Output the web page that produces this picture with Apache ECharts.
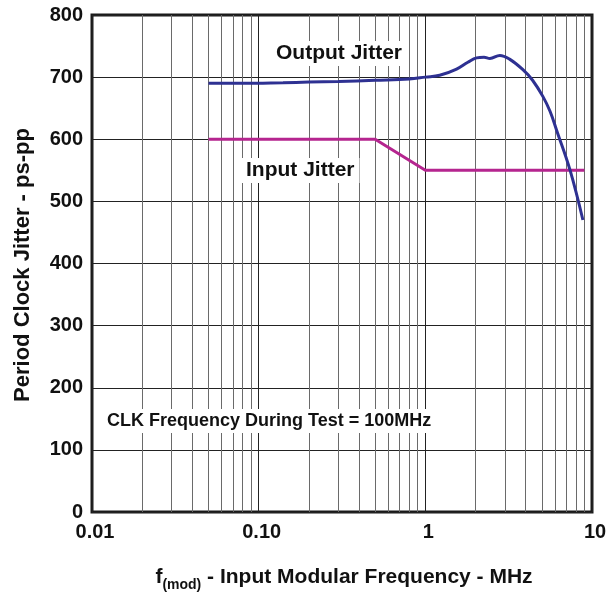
<!DOCTYPE html>
<html><head><meta charset="utf-8">
<script src="https://cdn.jsdelivr.net/npm/echarts@6/dist/echarts.min.js"></script>
<style>html,body{margin:0;padding:0;background:#fff}#c{width:614px;height:595px}</style>
</head><body><div id="c"></div>
<script>
const outputFreq = [0.05, 0.08, 0.14, 0.2, 0.3, 0.5, 0.8, 1.0, 1.22, 1.54, 1.8, 2.03, 2.25, 2.44, 2.8, 3.2, 3.85, 4.4, 5.07, 5.6, 6.16, 7.37, 8.82];
const outputJitter = [690, 690, 691, 692, 693, 695, 697, 700, 703, 713, 724, 731, 732, 730, 735, 729, 712, 695, 669, 645, 613, 551, 470];
const inputFreq = [0.05, 0.5, 1.0, 9.0];
const inputJitter = [600, 600, 550, 550];
const minorGrid = [0.02,0.03,0.04,0.05,0.06,0.07,0.08,0.09,0.2,0.3,0.4,0.5,0.6,0.7,0.8,0.9,2,3,4,5,6,7,8,9];
const xTickLabels = {'0.01':'0.01','0.1':'0.10','1':'1','10':'10'};

const font = '"Liberation Sans", Arial, sans-serif';
const chart = echarts.init(document.getElementById('c'), null, {renderer:'canvas'});
chart.setOption({
  animation:false,
  backgroundColor:'#fff',
  grid:{left:92,right:22,top:15,bottom:83,show:true,borderColor:'#1a1a1a',borderWidth:3,backgroundColor:'transparent'},
  xAxis:{type:'log',logBase:10,min:0.01,max:10,
    axisLine:{show:false},axisTick:{show:false},
    splitLine:{show:true,lineStyle:{color:'#222',width:1}},
    axisLabel:{fontFamily:font,fontWeight:'bold',fontSize:20,color:'#111',margin:10,padding:[0,0,0,6],
      formatter:v=>{const k=String(+v.toPrecision(3));return xTickLabels[k]!==undefined?xTickLabels[k]:k;}}
  },
  yAxis:{type:'value',min:0,max:800,interval:100,
    axisLine:{show:false},axisTick:{show:false},
    splitLine:{show:true,lineStyle:{color:'#222',width:1.2}},
    axisLabel:{fontFamily:font,fontWeight:'bold',fontSize:20,color:'#111',margin:9}
  },
  series:[
    {type:'line',data:[],silent:true,
      markLine:{silent:true,symbol:['none','none'],label:{show:false},
        lineStyle:{color:'#6a6a6a',width:1,type:'solid'},
        data:minorGrid.map(v=>({xAxis:v}))}},
    {type:'line',name:'Input Jitter',data:inputFreq.map((f,i)=>[f,inputJitter[i]]),
      showSymbol:false,lineStyle:{color:'#b5258f',width:3},z:5},
    {type:'line',name:'Output Jitter',smooth:0.4,data:outputFreq.map((f,i)=>[f,outputJitter[i]]),
      showSymbol:false,lineStyle:{color:'#2e3192',width:3},z:6}
  ],
  graphic:[
    {type:'text',left:271,top:41,z:100,style:{text:'Output Jitter',font:'bold 21px '+font,fill:'#111',backgroundColor:'#fff',padding:[2,5]}},
    {type:'text',left:241,top:158,z:100,style:{text:'Input Jitter',font:'bold 21px '+font,fill:'#111',backgroundColor:'#fff',padding:[2,5]}},
    {type:'text',left:102,top:409,z:100,style:{text:'CLK Frequency During Test = 100MHz',font:'bold 18px '+font,fill:'#111',backgroundColor:'#fff',padding:[3,5]}},
    {type:'text',x:23,y:265,rotation:Math.PI/2,z:100,style:{text:'Period Clock Jitter - ps-pp',font:'bold 22px '+font,fill:'#111',align:'center',verticalAlign:'middle'}},
    {type:'text',x:344,y:567,z:100,style:{align:'center',verticalAlign:'top',
      text:'{f|f}{s|(mod)}{f| - Input Modular Frequency - MHz}',
      rich:{f:{font:'bold 21px '+font,fill:'#111',verticalAlign:'top',lineHeight:24},
            s:{font:'bold 14px '+font,fill:'#111',padding:[13,0,0,0],lineHeight:24}}}}
  ]
});
</script></body></html>
